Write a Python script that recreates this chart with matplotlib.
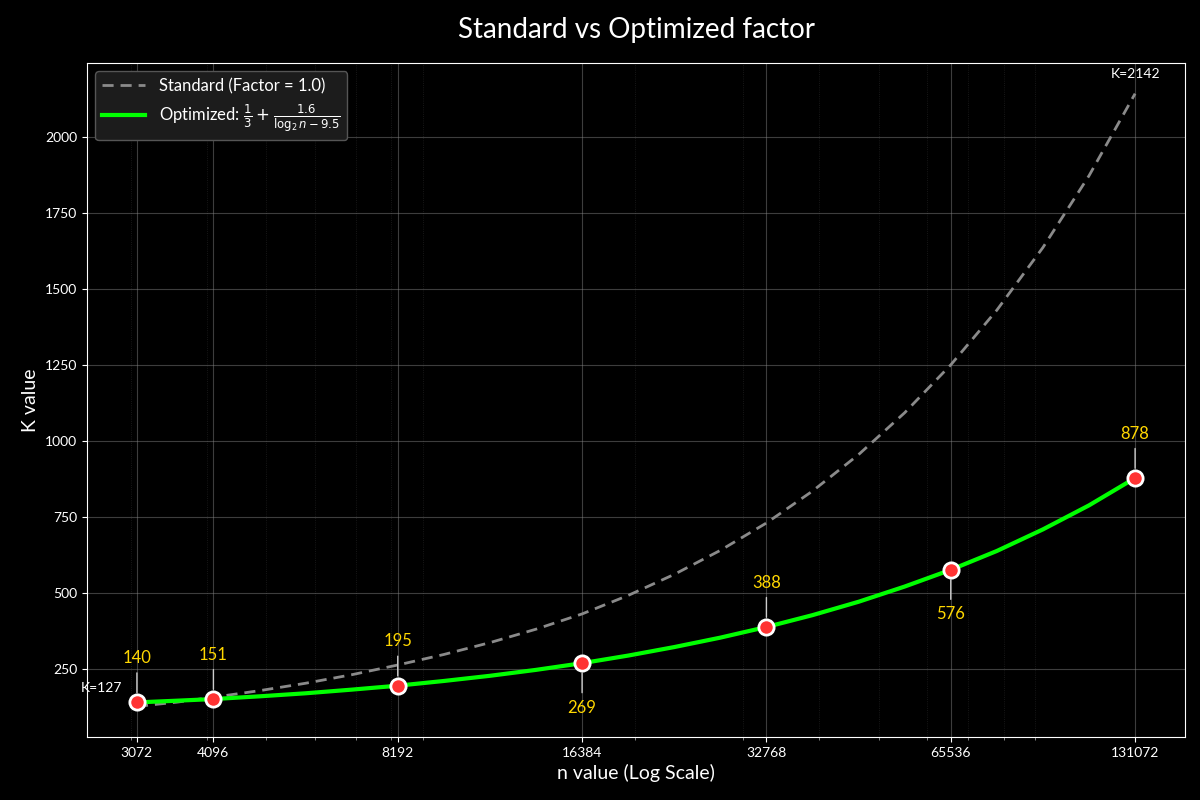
import matplotlib
matplotlib.use("Agg")
import matplotlib.pyplot as plt
from matplotlib.ticker import FixedLocator, FixedFormatter, NullFormatter

plt.rcParams['font.family'] = ['Lato', 'DejaVu Sans']

# Key n values and the optimized K at each of them
n_points = [3072, 4096, 8192, 16384, 32768, 65536, 131072]
k_opt_points = [140, 151, 195, 269, 388, 576, 878]

# Optimized curve (points plus in-between readings)
opt_n = [3072, 3566, 4096, 4871, 5793, 6889, 8192, 9742, 11585, 13777,
         16384, 19484, 23170, 27554, 32768, 38968, 46341, 55109,
         65536, 77936, 92682, 110218, 131072]
opt_k = [140, 145.6, 151, 160, 170, 182, 195, 210.5, 227.5, 247,
         269, 294, 322, 353, 388, 427, 471, 521,
         576, 638, 709, 788, 878]

# Standard curve (factor = 1.0)
std_n = [3072, 3566, 4096, 4871, 5793, 6889, 8192, 9742, 11585, 13777,
         16384, 19484, 23170, 27554, 32768, 38968, 46341, 55109,
         65536, 77936, 92682, 110218, 131072]
std_k = [127, 140.7, 157, 178.6, 203, 231, 263, 297.6, 336.6, 380.8,
         431, 491.8, 561, 640, 730, 835, 955, 1092.6,
         1250, 1430, 1636, 1872, 2142]

labels_below = [16384, 65536]

fig = plt.figure(figsize=(12, 8), dpi=100, facecolor='black')
ax = fig.add_axes([0.0725, 0.07875, 0.915, 0.8425])
ax.set_facecolor('black')

ax.plot(std_n, std_k, color='#8a8a8a', lw=2, ls=(0, (4, 2.5)),
        label='Standard (Factor = 1.0)', zorder=2)
ax.plot(opt_n, opt_k, color='#00ff00', lw=3,
        label=r'Optimized: $\frac{1}{3} + \frac{1.6}{\log_2 n - 9.5}$', zorder=3)
ax.plot(n_points, k_opt_points, 'o', color='#ff3333', markersize=11,
        markeredgecolor='white', markeredgewidth=2, zorder=4)

ax.set_xscale('log')
ax.xaxis.set_major_locator(FixedLocator(n_points))
ax.xaxis.set_major_formatter(FixedFormatter([str(v) for v in n_points]))
ax.xaxis.set_minor_formatter(NullFormatter())

# Value labels with thin leader lines
for n, k in zip(n_points, k_opt_points):
    dy = -32 if n in labels_below else 32
    ax.annotate(str(k), xy=(n, k), xytext=(0, dy), textcoords='offset points',
                ha='center', va='center', color='#ffd700', fontsize=12,
                arrowprops=dict(arrowstyle='-', color='#cccccc', lw=1,
                                shrinkA=3, shrinkB=7), zorder=5)

ax.annotate('K=%d' % std_k[0], xy=(std_n[0], std_k[0]), xytext=(-11, 13),
            textcoords='offset points', ha='right', va='center',
            color='white', fontsize=10)
ax.annotate('K=%d' % std_k[-1], xy=(std_n[-1], std_k[-1]), xytext=(0, 14),
            textcoords='offset points', ha='center', va='center',
            color='white', fontsize=10)

ax.grid(True, which='major', color='#888888', alpha=0.45, lw=0.8)
ax.grid(True, which='minor', axis='x', color='#666666', alpha=0.3, lw=0.6, ls=':')

for s in ax.spines.values():
    s.set_color('white')
ax.tick_params(colors='white', labelsize=10)
ax.tick_params(which='minor', colors='#999999')

ax.set_title('Standard vs Optimized factor', color='white', fontsize=20, pad=18)
ax.set_xlabel('n value (Log Scale)', color='white', fontsize=14, labelpad=4)
ax.set_ylabel('K value', color='white', fontsize=14)

leg = ax.legend(loc='upper left', fontsize=12, facecolor='#1c1c1c',
                edgecolor='#555555', framealpha=1, labelcolor='white',
                handlelength=2.6)

fig.savefig('out.png', dpi=100, facecolor='black')
